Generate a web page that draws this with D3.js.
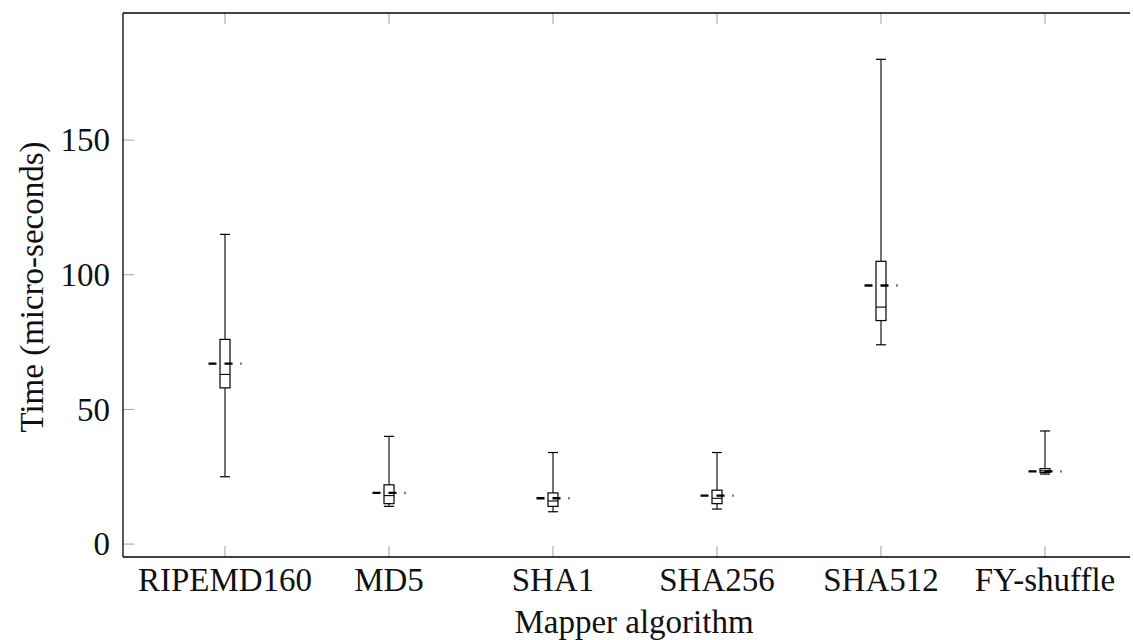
<!DOCTYPE html>
<html>
<head>
<meta charset="utf-8">
<script src="https://cdn.jsdelivr.net/npm/d3@7"></script>
<style>
  body { margin: 0; background: #fff; overflow: hidden; }
  svg { display: block; overflow: hidden; }
  text { font-family: "Liberation Serif", "Times New Roman", serif; fill: #111; }
</style>
</head>
<body>
<svg id="chart" width="1133" height="640"></svg>
<script>
// DATA (micro-seconds)
const categories  = ["RIPEMD160", "MD5", "SHA1", "SHA256", "SHA512", "FY-shuffle"];
const whiskerLow  = [25, 14, 12, 13, 74, 26];
const q1          = [58, 15, 14, 15, 83, 26.6];
const median      = [63, 18, 16, 17, 88, 27.2];
const q3          = [76, 22, 19, 20, 105, 28];
const whiskerHigh = [115, 40, 34, 34, 180, 42];
const mean        = [67, 19, 17, 18, 96, 27];
const yTicks      = [0, 50, 100, 150];

// SETUP: plot frame (right edge runs past the window, as in the original)
const svg = d3.select("#chart");
const plotL = 123, plotR = 1147, plotT = 13, plotB = 557;
const fontSize = 33;

const x = d3.scalePoint()
    .domain(categories)
    .range([plotL, plotR])
    .padding(0.622);

const y = d3.scaleLinear()
    .domain([-4.8, 197.2])
    .range([plotB, plotT]);

const boxW = 10, meanHalf = 16.5, tickLen = 11;

const rows = categories.map((c, i) => ({
    name: c, lo: whiskerLow[i], q1: q1[i], med: median[i],
    q3: q3[i], hi: whiskerHigh[i], mean: mean[i]
}));

// TICKS (inside, grey)
const ticks = svg.append("g").attr("stroke", "#a0a0a0").attr("stroke-width", 1);
categories.forEach(c => {
    ticks.append("line").attr("x1", x(c)).attr("x2", x(c)).attr("y1", plotB).attr("y2", plotB - tickLen);
    ticks.append("line").attr("x1", x(c)).attr("x2", x(c)).attr("y1", plotT).attr("y2", plotT + tickLen);
});
yTicks.forEach(v => {
    ticks.append("line").attr("x1", plotL).attr("x2", plotL + tickLen).attr("y1", y(v)).attr("y2", y(v));
});

// AXIS FRAME (left, top, bottom; stops just short of the window edge)
const visR = Math.min(plotR, 1130);
const frame = svg.append("g").attr("stroke", "#000").attr("stroke-width", 1.3);
frame.append("line").attr("x1", plotL).attr("x2", plotL).attr("y1", plotT).attr("y2", plotB);
frame.append("line").attr("x1", plotL).attr("x2", visR).attr("y1", plotT).attr("y2", plotT);
frame.append("line").attr("x1", plotL).attr("x2", visR).attr("y1", plotB).attr("y2", plotB);

// TICK LABELS
svg.append("g").selectAll("text")
    .data(yTicks).join("text")
    .attr("x", plotL - 13).attr("y", d => y(d))
    .attr("dy", "0.34em")
    .attr("text-anchor", "end")
    .attr("font-size", fontSize)
    .text(d => d);

svg.append("g").selectAll("text")
    .data(categories).join("text")
    .attr("x", d => x(d)).attr("y", 591)
    .attr("text-anchor", "middle")
    .attr("font-size", fontSize)
    .text(d => d);

// AXIS LABELS
svg.append("text")
    .attr("x", 634).attr("y", 633)
    .attr("text-anchor", "middle")
    .attr("font-size", fontSize)
    .text("Mapper algorithm");

svg.append("text")
    .attr("transform", "translate(43,287) rotate(-90)")
    .attr("text-anchor", "middle")
    .attr("font-size", fontSize)
    .text("Time (micro-seconds)");

// BOX PLOTS
const g = svg.append("g").attr("stroke", "#000").attr("fill", "none");
rows.forEach(d => {
    const cx = x(d.name);
    // whiskers
    g.append("line").attr("x1", cx).attr("x2", cx).attr("y1", y(d.q3)).attr("y2", y(d.hi)).attr("stroke-width", 1.1);
    g.append("line").attr("x1", cx).attr("x2", cx).attr("y1", y(d.q1)).attr("y2", y(d.lo)).attr("stroke-width", 1.1);
    // caps
    [d.lo, d.hi].forEach(v => {
        g.append("line").attr("x1", cx - boxW / 2).attr("x2", cx + boxW / 2)
            .attr("y1", y(v)).attr("y2", y(v)).attr("stroke-width", 1.2);
    });
    // box
    g.append("rect")
        .attr("x", cx - boxW / 2).attr("y", y(d.q3))
        .attr("width", boxW).attr("height", y(d.q1) - y(d.q3))
        .attr("fill", "#fff").attr("stroke-width", 1.2);
    // median
    g.append("line").attr("x1", cx - boxW / 2).attr("x2", cx + boxW / 2)
        .attr("y1", y(d.med)).attr("y2", y(d.med)).attr("stroke-width", 1.1);
    // mean (dashed)
    g.append("line").attr("x1", cx - meanHalf).attr("x2", cx + meanHalf)
        .attr("y1", y(d.mean)).attr("y2", y(d.mean))
        .attr("stroke-width", 2.4).attr("stroke-dasharray", "8,8");
});
</script>
</body>
</html>
